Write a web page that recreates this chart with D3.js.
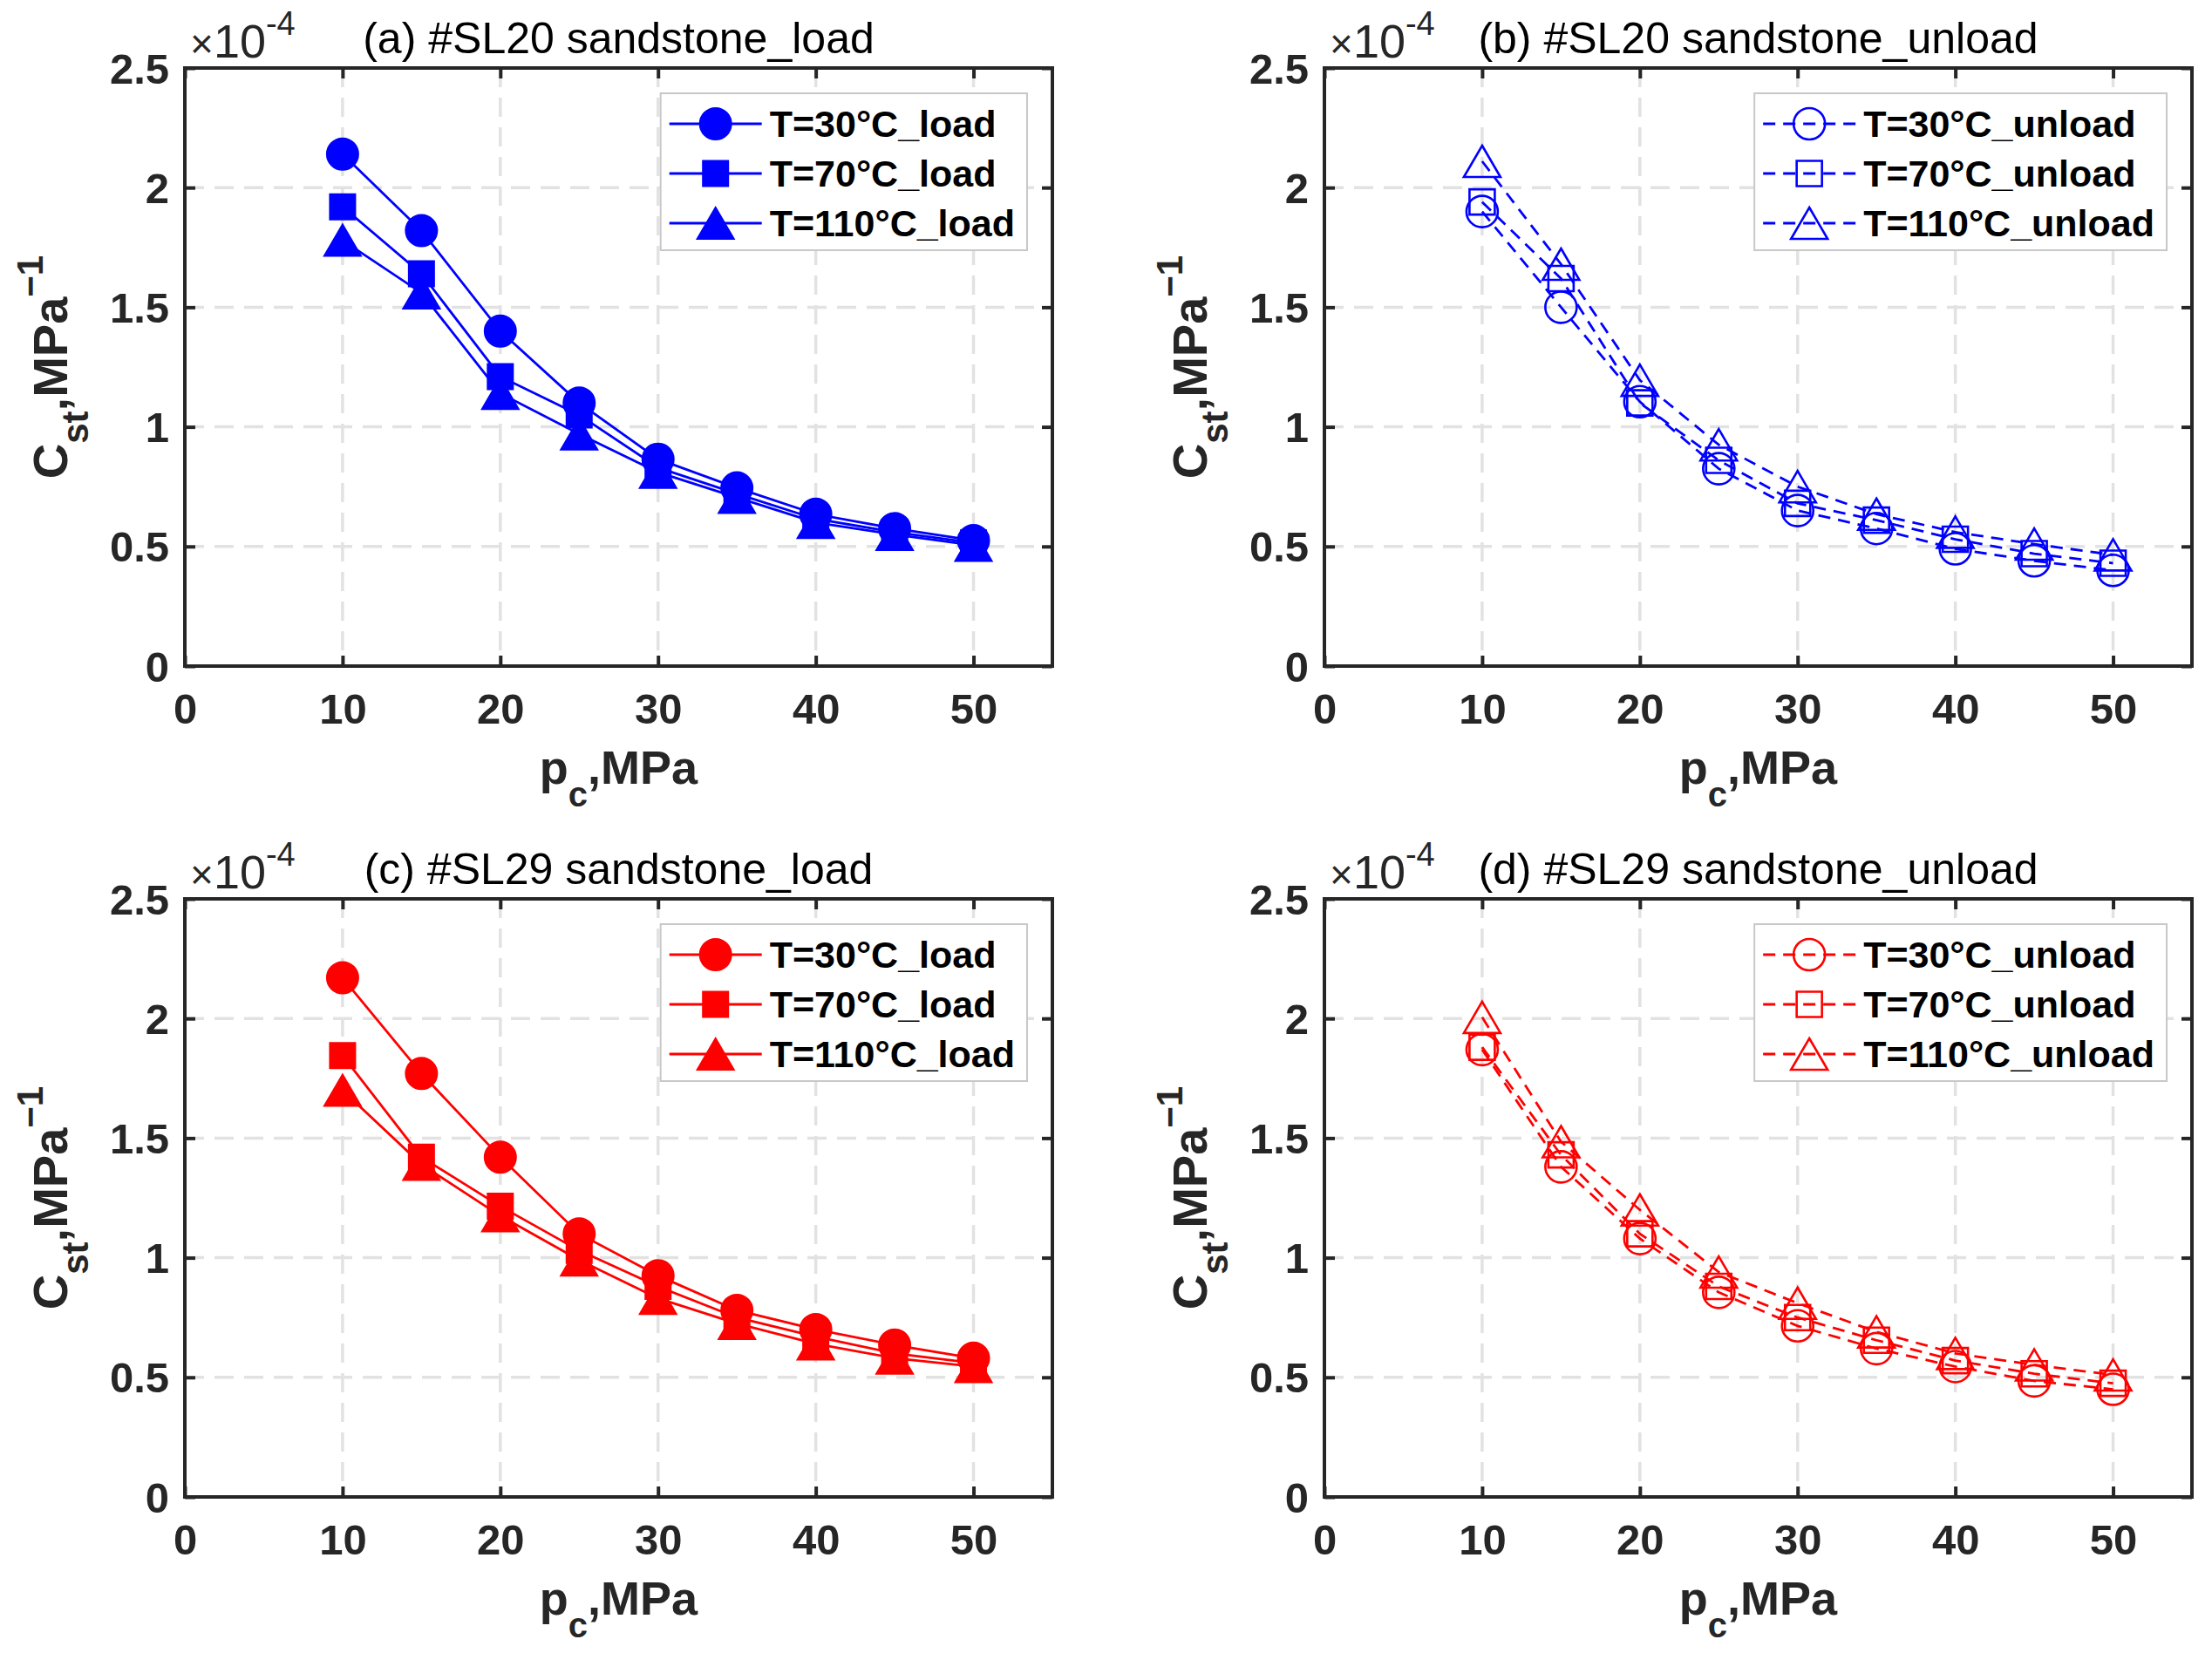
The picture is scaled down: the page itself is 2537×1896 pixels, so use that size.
<!DOCTYPE html>
<html>
<head>
<meta charset="utf-8">
<script src="https://cdn.jsdelivr.net/npm/d3@7"></script>
<style>
  body { margin: 0; background: #fff; }
  svg { display: block; font-family: "Liberation Sans", Arial, sans-serif; }
</style>
</head>
<body>
<div id="chart"></div>
<script>
// confining pressure, MPa
const pc = [10, 15, 20, 25, 30, 35, 40, 45, 50];

// C_st values in units of 1e-4 MPa^-1
const sl20Load30 = [2.14, 1.82, 1.40, 1.10, 0.865, 0.745, 0.635, 0.575, 0.525];
const sl20Load70 = [1.92, 1.64, 1.21, 1.05, 0.83, 0.72, 0.615, 0.56, 0.515];
const sl20Load110 = [1.78, 1.56, 1.14, 0.97, 0.81, 0.705, 0.60, 0.55, 0.505];

const sl20Unload30 = [1.90, 1.50, 1.105, 0.825, 0.65, 0.575, 0.49, 0.44, 0.40];
const sl20Unload70 = [1.94, 1.62, 1.10, 0.86, 0.68, 0.61, 0.53, 0.47, 0.43];
const sl20Unload110 = [2.11, 1.68, 1.195, 0.925, 0.75, 0.635, 0.56, 0.51, 0.465];

const sl29Load30 = [2.17, 1.77, 1.42, 1.10, 0.925, 0.78, 0.70, 0.635, 0.58];
const sl29Load70 = [1.845, 1.42, 1.215, 1.03, 0.88, 0.75, 0.67, 0.60, 0.56];
const sl29Load110 = [1.70, 1.39, 1.175, 0.99, 0.83, 0.725, 0.64, 0.58, 0.545];

const sl29Unload30 = [1.87, 1.38, 1.08, 0.855, 0.715, 0.62, 0.545, 0.485, 0.45];
const sl29Unload70 = [1.88, 1.43, 1.10, 0.88, 0.75, 0.655, 0.57, 0.515, 0.475];
const sl29Unload110 = [2.005, 1.485, 1.20, 0.94, 0.81, 0.69, 0.60, 0.552, 0.51];

const xTicks = [0, 10, 20, 30, 40, 50];
const yTicks = [0, 0.5, 1, 1.5, 2, 2.5];
const yTickLabels = ["0", "0.5", "1", "1.5", "2", "2.5"];
const temps = ["30", "70", "110"];
const shapes = ["circle", "square", "triangle"];

const panels = [
  { title: "(a) #SL20 sandstone_load", mode: "load", color: "#0000ff",
    series: [sl20Load30, sl20Load70, sl20Load110], ox: 212, oy: 78 },
  { title: "(b) #SL20 sandstone_unload", mode: "unload", color: "#0000ff",
    series: [sl20Unload30, sl20Unload70, sl20Unload110], ox: 1519, oy: 78 },
  { title: "(c) #SL29 sandstone_load", mode: "load", color: "#ff0000",
    series: [sl29Load30, sl29Load70, sl29Load110], ox: 212, oy: 1031 },
  { title: "(d) #SL29 sandstone_unload", mode: "unload", color: "#ff0000",
    series: [sl29Unload30, sl29Unload70, sl29Unload110], ox: 1519, oy: 1031 }
];

const W = 2537, H = 1896;
const pw = 995, ph = 686;
const axisColor = "#262626";

const svg = d3.select("#chart").append("svg")
    .attr("width", W)
    .attr("height", H);

svg.append("rect").attr("width", W).attr("height", H).attr("fill", "#fff");

const x = d3.scaleLinear().domain([0, 55]).range([0, pw]);
const y = d3.scaleLinear().domain([0, 2.5]).range([ph, 0]);

function markerPath(shape) {
  if (shape === "circle") {
    const r = 18;
    return `M${-r},0A${r},${r} 0 1,0 ${r},0A${r},${r} 0 1,0 ${-r},0Z`;
  }
  if (shape === "square") {
    const s = 14.5;
    return `M${-s},${-s}H${s}V${s}H${-s}Z`;
  }
  const w = 21, h = 18;
  return `M0,${-h}L${w},${h}L${-w},${h}Z`;
}

function drawMarker(g, shape, mode, color) {
  g.append("path")
    .attr("d", markerPath(shape))
    .attr("fill", mode === "load" ? color : "none")
    .attr("stroke", color)
    .attr("stroke-width", mode === "load" ? 2 : 2.6);
}

panels.forEach(p => {
  const g = svg.append("g").attr("transform", `translate(${p.ox},${p.oy})`);

  // grid
  const grid = g.append("g");
  grid.selectAll(".gx").data(xTicks.filter(d => d > 0)).join("line")
      .attr("x1", d => x(d)).attr("x2", d => x(d))
      .attr("y1", 0).attr("y2", ph);
  grid.selectAll(".gy").data(yTicks.filter(d => d > 0 && d < 2.5)).join("line")
      .attr("class", "gy")
      .attr("x1", 0).attr("x2", pw)
      .attr("y1", d => y(d)).attr("y2", d => y(d));
  grid.selectAll("line")
      .attr("stroke", "#e2e2e2")
      .attr("stroke-width", 3.5)
      .attr("stroke-dasharray", "22,12");

  // data
  const line = d3.line().x((d, i) => x(pc[i])).y(d => y(d));
  p.series.forEach((vals, si) => {
    g.append("path")
      .datum(vals)
      .attr("d", line)
      .attr("fill", "none")
      .attr("stroke", p.color)
      .attr("stroke-width", 2.8)
      .attr("stroke-dasharray", p.mode === "unload" ? "14,9" : null);
    g.selectAll(".m" + si).data(vals).join("g")
      .attr("class", "m" + si)
      .attr("transform", (d, i) => `translate(${x(pc[i])},${y(d)})`)
      .each(function () { drawMarker(d3.select(this), shapes[si], p.mode, p.color); });
  });

  // axes with inward ticks
  const xAxis = d3.axisBottom(x).tickValues(xTicks).tickSize(-12).tickPadding(30)
      .tickFormat(d3.format("d"));
  const yAxis = d3.axisLeft(y).tickValues(yTicks).tickSize(-12).tickPadding(30)
      .tickFormat((d, i) => yTickLabels[i]);

  const gx = g.append("g").attr("transform", `translate(0,${ph})`).call(xAxis);
  const gy = g.append("g").call(yAxis);
  g.append("g").call(d3.axisTop(x).tickValues(xTicks).tickSize(-12).tickFormat(""));
  g.append("g").attr("transform", `translate(${pw},0)`)
      .call(d3.axisRight(y).tickValues(yTicks).tickSize(-12).tickFormat(""));

  g.selectAll(".domain").remove();
  g.selectAll(".tick line").attr("stroke", axisColor).attr("stroke-width", 4);
  g.selectAll(".tick text")
      .attr("fill", axisColor)
      .attr("font-family", "'Liberation Sans', Arial, sans-serif")
      .attr("font-weight", "bold")
      .attr("font-size", 49);
  gx.selectAll(".tick text").attr("dy", "0.71em");
  gy.selectAll(".tick text").attr("dy", "0.35em").attr("x", -18);
  gx.selectAll(".tick text").attr("y", 31);

  g.append("rect")
      .attr("width", pw).attr("height", ph)
      .attr("fill", "none")
      .attr("stroke", axisColor)
      .attr("stroke-width", 4);

  // title and exponent
  g.append("text")
      .attr("x", pw / 2).attr("y", -17)
      .attr("text-anchor", "middle")
      .attr("font-size", 50)
      .attr("fill", "#000")
      .text(p.title);

  const ex = g.append("text").attr("x", 6).attr("y", -12).attr("fill", axisColor);
  ex.append("tspan").attr("font-size", 46).text("×");
  ex.append("tspan").attr("font-size", 54).text("10");
  ex.append("tspan").attr("font-size", 38).attr("dy", -26).text("-4");

  // axis labels
  const xl = g.append("text")
      .attr("x", pw / 2).attr("y", ph + 135)
      .attr("text-anchor", "middle")
      .attr("font-size", 54).attr("font-weight", "bold")
      .attr("fill", axisColor);
  xl.append("tspan").text("p");
  xl.append("tspan").attr("font-size", 40).attr("dy", 26).text("c");
  xl.append("tspan").attr("dy", -26).text(",MPa");

  const yl = g.append("text")
      .attr("transform", `translate(-135,${ph / 2}) rotate(-90)`)
      .attr("text-anchor", "middle")
      .attr("font-size", 56).attr("font-weight", "bold")
      .attr("fill", axisColor);
  yl.append("tspan").text("C");
  yl.append("tspan").attr("font-size", 42).attr("dy", 24).text("st");
  yl.append("tspan").attr("dy", -24).text(",MPa");
  yl.append("tspan").attr("font-size", 42).attr("dy", -28).text("\u22121");

  // legend
  const lg = g.append("g");
  const box = lg.append("rect")
      .attr("fill", "#fff")
      .attr("stroke", "#c8c8c8")
      .attr("stroke-width", 2);
  const rowY = [35, 92, 149];
  let maxW = 0;
  temps.forEach((t, i) => {
    const row = lg.append("g").attr("transform", `translate(0,${rowY[i]})`);
    row.append("line")
        .attr("x1", 10).attr("x2", 116)
        .attr("stroke", p.color).attr("stroke-width", 2.8)
        .attr("stroke-dasharray", p.mode === "unload" ? "14,9" : null);
    drawMarker(row.append("g").attr("transform", "translate(63,0)"), shapes[i], p.mode, p.color);
    const tx = row.append("text")
        .attr("x", 125).attr("y", 15)
        .attr("font-size", 43).attr("font-weight", "bold")
        .attr("fill", "#000")
        .text(`T=${t}°C_${p.mode}`);
    maxW = Math.max(maxW, tx.node().getComputedTextLength());
  });
  const bw = 125 + maxW + 14, bh = 180;
  box.attr("width", bw).attr("height", bh);
  lg.attr("transform", `translate(${pw - 29 - bw},29)`);
});
</script>
</body>
</html>
